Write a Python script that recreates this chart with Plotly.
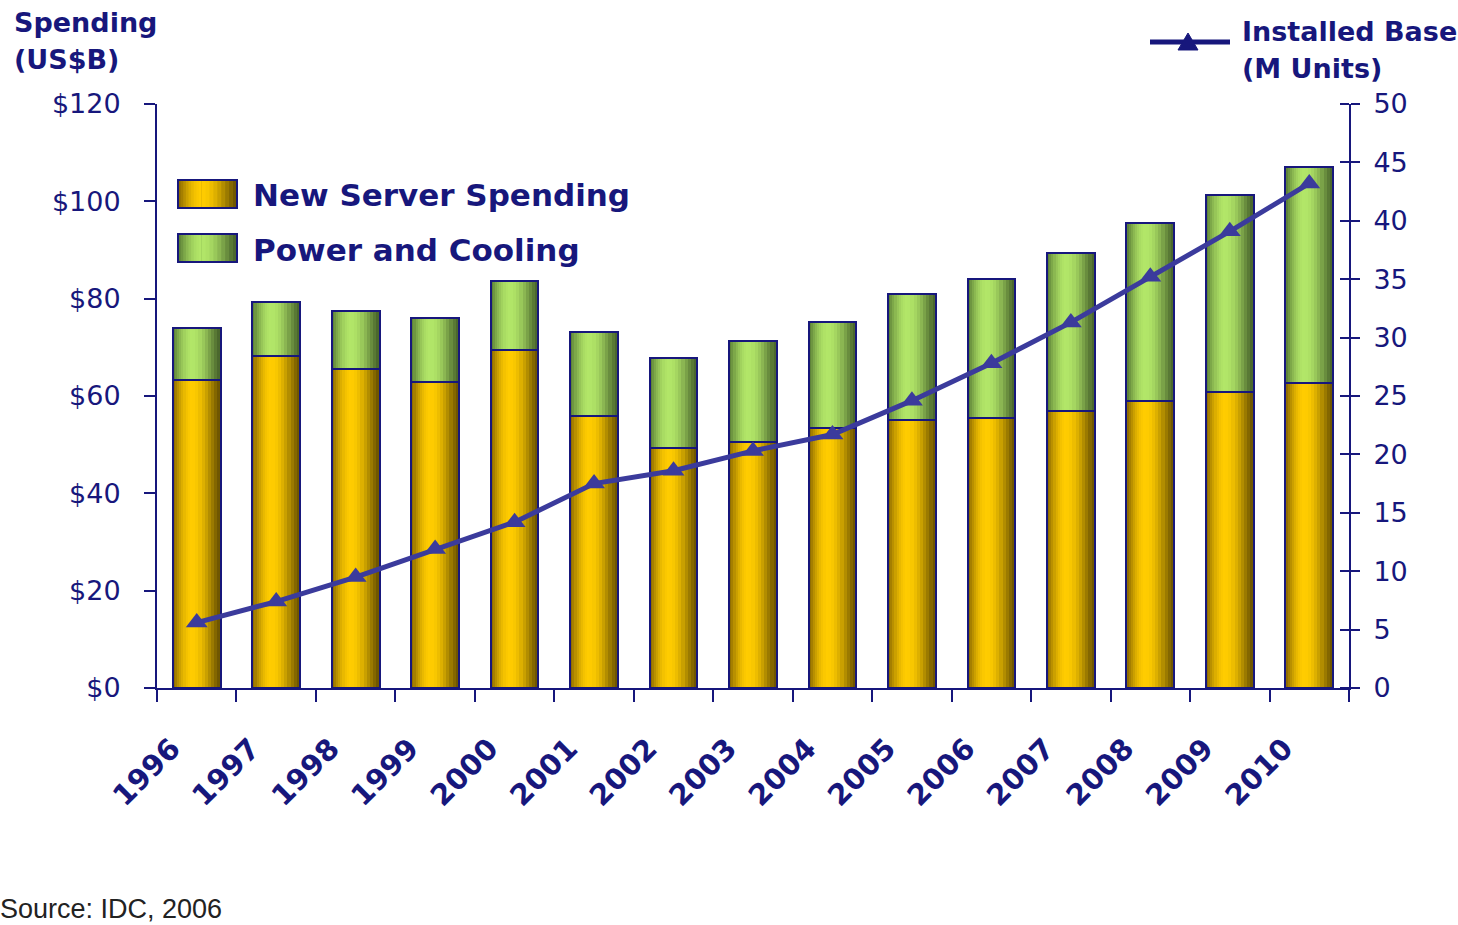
import math
import plotly.graph_objects as go

# ---- data ----
years = [str(y) for y in range(1996, 2011)]
new_server_spending = [63.3, 68.2, 65.5, 62.9, 69.4, 55.9, 49.3, 50.5, 53.4, 55.1, 55.5, 56.9, 59.0, 60.8, 62.7]
power_and_cooling = [10.7, 11.1, 12.0, 13.1, 14.2, 17.2, 18.5, 20.8, 21.8, 25.9, 28.5, 32.5, 36.5, 40.5, 44.3]
installed_base = [5.6, 7.4, 9.5, 11.9, 14.2, 17.5, 18.6, 20.3, 21.7, 24.6, 27.8, 31.3, 35.2, 39.1, 43.2]
spend_ticks = [0, 20, 40, 60, 80, 100, 120]
spend_tick_labels = ["$0", "$20", "$40", "$60", "$80", "$100", "$120"]
unit_ticks = list(range(0, 55, 5))

# ---- style ----
NAVY = "#17177c"
LINE_BLUE = "#3b3b9c"
FONT = "DejaVu Sans"
W, H = 1458, 925
ML, MR, MT, MB = 157, 109, 104, 237
PW, PH = W - ML - MR, H - MT - MB
BAR_W = 0.6

GOLD = dict(dl=(0x86, 0x64, 0x00), dr=(0x6a, 0x52, 0x00), hi=(0xff, 0xcc, 0x00))
GREEN = dict(dl=(0x56, 0x7a, 0x33), dr=(0x46, 0x62, 0x2a), hi=(0xb2, 0xe6, 0x68))


def mix(a, b, u):
    return "rgb(%d,%d,%d)" % tuple(round(a[i] + (b[i] - a[i]) * u) for i in range(3))


def strips(pal, c=0.4, n=9):
    """Cylinder-like shading: list of (start, end, colour) as fractions of width."""
    out = []
    for k in range(n):
        u = math.sin(math.pi / 2 * (k + 0.5) / n)
        out.append((c * k / n, c + 0.01, mix(pal["dl"], pal["hi"], u)))
    for k in range(n):
        u = math.sin(math.pi / 2 * (k + 0.5) / n) ** 1.3
        out.append((c, 1 - (1 - c) * k / n, mix(pal["dr"], pal["hi"], u)))
    return out


def px_x(p):
    return (p - ML) / PW


def px_y(p):
    return (H - MB - p) / PH


fig = go.Figure()


def add_series(values, base, pal):
    for a, b, col in strips(pal):
        fig.add_trace(go.Bar(
            x=years, y=values, base=base,
            width=BAR_W * (b - a), offset=-BAR_W / 2 + BAR_W * a,
            marker=dict(color=col, line=dict(width=0)),
            showlegend=False, hoverinfo="skip"))


add_series(new_server_spending, [0] * len(years), GOLD)
add_series(power_and_cooling, new_server_spending, GREEN)

# outlines for each stacked segment
for vals, base in ((new_server_spending, [0] * len(years)), (power_and_cooling, new_server_spending)):
    fig.add_trace(go.Bar(
        x=years, y=vals, base=base, width=BAR_W, offset=-BAR_W / 2,
        marker=dict(color="rgba(0,0,0,0)", line=dict(color=NAVY, width=2)),
        showlegend=False, hoverinfo="skip"))

# transparent copy on y3 so the inner half of the right-axis cross ticks is drawn
fig.add_trace(go.Scatter(
    x=years, y=installed_base, yaxis="y3", mode="lines",
    line=dict(color="rgba(0,0,0,0)", width=0), showlegend=False, hoverinfo="skip"))

fig.add_trace(go.Scatter(
    x=years, y=installed_base, yaxis="y2", mode="lines+markers",
    line=dict(color=LINE_BLUE, width=5),
    marker=dict(symbol="triangle-up", size=19, color=LINE_BLUE),
    showlegend=False, hoverinfo="skip"))

# ---- legend drawn as shapes + text ----
shapes = []
for (y0, y1), pal in (((180, 208), GOLD), ((234, 262), GREEN)):
    x0, x1 = 178, 237
    for a, b, col in strips(pal):
        shapes.append(dict(type="rect", xref="paper", yref="paper",
                           x0=px_x(x0 + (x1 - x0) * a), x1=px_x(x0 + (x1 - x0) * b),
                           y0=px_y(y1), y1=px_y(y0), fillcolor=col, line=dict(width=0), layer="above"))
    shapes.append(dict(type="rect", xref="paper", yref="paper",
                       x0=px_x(x0), x1=px_x(x1), y0=px_y(y1), y1=px_y(y0),
                       fillcolor="rgba(0,0,0,0)", line=dict(color=NAVY, width=2), layer="above"))

shapes.append(dict(type="line", xref="paper", yref="paper",
                   x0=px_x(1150), x1=px_x(1230), y0=px_y(42), y1=px_y(42),
                   line=dict(color=NAVY, width=5)))
shapes.append(dict(type="path", xref="paper", yref="paper",
                   path="M %f,%f L %f,%f L %f,%f Z" % (px_x(1178), px_y(50), px_x(1198), px_y(50),
                                                       px_x(1188), px_y(33)),
                   fillcolor=NAVY, line=dict(color=NAVY, width=1)))

bold27 = dict(family=FONT, size=27, color=NAVY, weight="bold")
bold31 = dict(family=FONT, size=31, color=NAVY, weight="bold")
annotations = [
    dict(text="New Server Spending", x=px_x(251), y=px_y(195), xanchor="left", font=bold31),
    dict(text="Power and Cooling", x=px_x(251), y=px_y(250), xanchor="left", font=bold31),
    dict(text="Spending", x=px_x(12), y=px_y(22), xanchor="left", font=bold27),
    dict(text="(US$B)", x=px_x(12), y=px_y(60), xanchor="left", font=bold27),
    dict(text="Installed Base", x=px_x(1240), y=px_y(31), xanchor="left", font=bold27),
    dict(text="(M Units)", x=px_x(1240), y=px_y(69), xanchor="left", font=bold27),
    dict(text="Source: IDC, 2006", x=px_x(-2), y=px_y(909), xanchor="left",
         font=dict(family="Liberation Sans", size=27, color="#222222")),
]
for a in annotations:
    a.update(xref="paper", yref="paper", yanchor="middle", showarrow=False)

axis_common = dict(tickwidth=2, tickcolor=NAVY, showline=True, linecolor=NAVY, linewidth=2,
                   showgrid=False, zeroline=False)

fig.update_layout(
    width=W, height=H, autosize=False,
    margin=dict(l=ML, r=MR, t=MT, b=MB, pad=0),
    paper_bgcolor="white", plot_bgcolor="white",
    barmode="overlay", bargap=0, showlegend=False,
    shapes=shapes, annotations=annotations,
    xaxis=dict(type="category", categoryarray=years, range=[-0.5, len(years) - 0.5],
               tickson="boundaries", ticks="outside", ticklen=12,
               tickangle=-45, ticklabelstandoff=30, ticklabelshift=-25,
               tickfont=dict(family=FONT, size=29, color=NAVY, weight="bold"), **axis_common),
    yaxis=dict(range=[0, 120], tickvals=spend_ticks, ticktext=spend_tick_labels,
               ticks="outside", ticklen=11, ticklabelstandoff=18,
               tickfont=dict(family=FONT, size=27, color=NAVY), **axis_common),
    yaxis2=dict(range=[0, 50], tickvals=unit_ticks, overlaying="y", side="right", anchor="x",
                ticks="outside", ticklen=9, ticklabelstandoff=8,
                tickfont=dict(family=FONT, size=27, color=NAVY), **axis_common),
    yaxis3=dict(range=[0, 50], tickvals=unit_ticks, overlaying="y", side="left",
                anchor="free", position=1,
                ticks="outside", ticklen=9, tickwidth=2, tickcolor=NAVY, showticklabels=False,
                showline=False, showgrid=False, zeroline=False),
)

fig.write_html("out.html")
